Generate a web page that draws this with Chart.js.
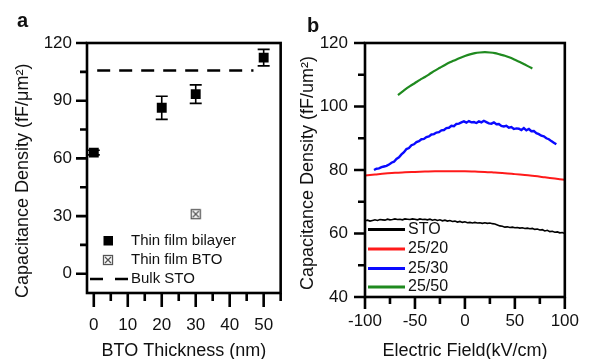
<!DOCTYPE html>
<html><head><meta charset="utf-8">
<script src="https://cdn.jsdelivr.net/npm/chart.js@4.4.0/dist/chart.umd.min.js"></script>
<style>
html,body{margin:0;padding:0;background:#fff;}
#wrap{position:relative;width:593px;height:359px;overflow:hidden;background:#fff}
canvas{position:absolute;top:0}
#ca{left:0;width:296px;height:359px}
#cb{left:296px;width:297px;height:359px}
</style></head><body>
<div id="wrap"><canvas id="ca" width="296" height="359"></canvas><canvas id="cb" width="297" height="359"></canvas></div>
<script>
// ---------- Panel a data ----------
const bilayerThickness = [0, 20, 30, 50];
const bilayerDensity = [63, 86.3, 93.4, 112.4];
const bilayerError = [1.2, 6, 4.8, 4.3];
const btoThickness = [30];
const btoDensity = [31];
const bulkThickness = [1, 47];
const bulkDensity = [105.7, 105.7];
const aXTicks = [0, 10, 20, 30, 40, 50];
const aXMinor = [5, 15, 25, 35, 45, 55];
const aYTicks = [0, 30, 60, 90, 120];
const aYMinor = [15, 45, 75, 105];

// ---------- Panel b data ----------
const stoField = [-100,-97.5,-95,-92.5,-90,-87.5,-85,-82.5,-80,-77.5,-75,-72.5,-70,-67.5,-65,-62.5,-60,-57.5,-55,-52.5,-50,-47.5,-45,-42.5,-40,-37.5,-35,-32.5,-30,-27.5,-25,-22.5,-20,-17.5,-15,-12.5,-10,-7.5,-5,-2.5,0,2.5,5,7.5,10,12.5,15,17.5,20,22.5,25,27.5,30,32.5,35,37.5,40,42.5,45,47.5,50,52.5,55,57.5,60,62.5,65,67.5,70,72.5,75,77.5,80,82.5,85,87.5,90,92.5,95,97.5,100];
const stoDensity = [64.0,64.2,63.9,64.1,64.3,64.1,64.4,64.3,64.2,64.5,64.3,64.4,64.6,64.4,64.5,64.3,64.6,64.5,64.4,64.6,64.5,64.3,64.6,64.4,64.5,64.3,64.5,64.2,64.4,64.1,64.3,64.0,64.2,63.9,64.1,63.8,63.9,63.6,63.8,63.5,63.7,63.4,63.5,63.3,63.5,63.3,63.4,63.2,63.4,63.2,63.3,63.1,63.0,62.7,62.4,62.3,62.0,62.1,61.9,62.0,61.8,61.9,61.7,61.8,61.6,61.7,61.5,61.6,61.3,61.4,61.1,61.2,60.8,61.0,60.6,60.7,60.4,60.5,60.2,60.3,60.0];
const r2520Field = [-100,-90,-80,-70,-60,-50,-40,-30,-20,-10,0,10,20,30,40,50,60,70,80,90,100];
const r2520Density = [78.3,78.6,78.9,79.1,79.3,79.4,79.5,79.6,79.6,79.6,79.6,79.5,79.4,79.2,79.0,78.7,78.4,78.1,77.7,77.3,76.9];
const r2530Field = [-91,-88.5,-86,-83.5,-81,-78.5,-76,-73.5,-71,-68.5,-66,-63.5,-61,-58.5,-56,-53.5,-51,-48.5,-46,-43.5,-41,-38.5,-36,-33.5,-31,-28.5,-26,-23.5,-21,-18.5,-16,-13.5,-11,-8.5,-6,-3.5,-1,1.5,4,6.5,9,11.5,14,16.5,19,21.5,24,26.5,29,31.5,34,36.5,39,41.5,44,46.5,49,51.5,54,56.5,59,61.5,64,66.5,69,71.5,74,76.5,79,81.5,84,86.5,89,91.5];
const r2530Density = [80.0,80.4,80.5,80.9,81.1,81.3,81.7,82.3,82.6,83.5,84.0,84.9,85.6,86.6,86.9,87.8,88.1,88.8,89.1,89.7,89.8,90.4,90.6,91.2,91.3,91.8,91.9,92.5,92.6,93.2,93.3,93.9,93.8,94.5,94.6,95.0,95.3,94.9,95.4,95.0,95.1,94.8,95.3,95.0,95.5,95.1,94.7,94.6,95.0,94.4,94.5,93.9,93.7,93.9,93.3,93.5,92.9,93.1,93.0,92.6,93.2,92.5,92.9,92.2,92.3,91.6,91.3,90.8,90.6,90.0,89.7,89.1,88.6,88.1];
const r2550Field = [-67,-60,-55,-50,-45,-40,-35,-30,-25,-20,-15,-10,-5,0,5,10,15,20,25,30,35,40,45,50,55,60,65,67.5];
const r2550Density = [103.6,105.3,106.4,107.4,108.4,109.3,110.3,111.3,112.2,113.1,113.9,114.6,115.3,115.9,116.4,116.8,117.0,117.1,117.0,116.8,116.4,116.0,115.4,114.7,114.0,113.2,112.4,112.0];
const bXTicks = [-100, -50, 0, 50, 100];
const bXMinor = [-75, -25, 25, 75];
const bYTicks = [40, 60, 80, 100, 120];
const bYMinor = [50, 70, 90, 110];

const FONT = "'Liberation Sans', Arial, Helvetica, sans-serif";
const TXT = '#111';
Chart.defaults.font.family = FONT;
Chart.defaults.color = TXT;

const pts = (xs, ys) => xs.map((x, i) => ({x: x, y: ys[i]}));

// crossed square marker image
function crossedSquare() {
  const c = document.createElement('canvas');
  c.width = 12; c.height = 12;
  const g = c.getContext('2d');
  g.fillStyle = '#fff'; g.fillRect(1, 1, 10, 10);
  g.strokeStyle = '#555'; g.lineWidth = 1.3;
  g.strokeRect(1.5, 1.5, 9, 9);
  g.beginPath(); g.moveTo(3, 3); g.lineTo(9, 9); g.moveTo(9, 3); g.lineTo(3, 9); g.stroke();
  return c;
}
const xsq = crossedSquare();

function fixTicks(vals) { return function(scale) { scale.ticks = vals.map(v => ({value: v})); }; }

function decor(o) {
  return {
    id: 'decor' + o.name,
    beforeDatasetsDraw(chart) {
      if (!o.errors) return;
      const ctx = chart.ctx, xs = chart.scales.x, ys = chart.scales.y;
      ctx.save();
      ctx.strokeStyle = '#000'; ctx.lineWidth = 1.6;
      o.errors.x.forEach((xv, i) => {
        const px = xs.getPixelForValue(xv);
        const t = ys.getPixelForValue(o.errors.y[i] + o.errors.e[i]);
        const b = ys.getPixelForValue(o.errors.y[i] - o.errors.e[i]);
        ctx.beginPath();
        ctx.moveTo(px, t); ctx.lineTo(px, b);
        ctx.moveTo(px - 6, t); ctx.lineTo(px + 6, t);
        ctx.moveTo(px - 6, b); ctx.lineTo(px + 6, b);
        ctx.stroke();
      });
      ctx.restore();
    },
    afterDatasetsDraw(chart) {
      const ctx = chart.ctx, a = chart.chartArea, xs = chart.scales.x, ys = chart.scales.y;
      ctx.save();
      ctx.strokeStyle = '#000';
      ctx.lineWidth = 2.6;
      ctx.strokeRect(a.left, a.top, a.right - a.left, a.bottom - a.top);
      ctx.beginPath();
      o.xMajor.forEach(v => { const p = xs.getPixelForValue(v); ctx.moveTo(p, a.bottom); ctx.lineTo(p, a.bottom + o.xMajLen); });
      o.xMinor.forEach(v => { const p = xs.getPixelForValue(v); ctx.moveTo(p, a.bottom); ctx.lineTo(p, a.bottom + o.xMinLen); });
      o.yMajor.forEach(v => { const p = ys.getPixelForValue(v); ctx.moveTo(a.left, p); ctx.lineTo(a.left - 11, p); });
      o.yMinor.forEach(v => { const p = ys.getPixelForValue(v); ctx.moveTo(a.left, p); ctx.lineTo(a.left - 7, p); });
      ctx.stroke();
      // axis titles
      ctx.fillStyle = TXT;
      ctx.font = '18px ' + FONT;
      ctx.textAlign = 'center'; ctx.textBaseline = 'alphabetic';
      ctx.fillText(o.xTitle, (a.left + a.right) / 2, 356);
      ctx.save();
      ctx.translate(o.yTitleX, o.yTitleStart);
      ctx.rotate(-Math.PI / 2);
      ctx.textAlign = 'left';
      ctx.fillText(o.yTitle, 0, 0);
      ctx.restore();
      // panel letter
      ctx.font = 'bold 20px ' + FONT;
      ctx.textAlign = 'left';
      ctx.fillText(o.letter, o.letterX, o.letterY);
      // legend
      o.legend(ctx, chart);
      ctx.restore();
    }
  };
}

function baseScales(xMin, xMax, yMin, yMax, xT, yT, yW, xH, xPad, yPad) {
  return {
    x: {type: 'linear', min: xMin, max: xMax, afterBuildTicks: fixTicks(xT),
        afterFit: s => { s.height = xH; },
        grid: {display: false, drawTicks: false}, border: {display: false},
        ticks: {font: {size: 17}, color: TXT, padding: xPad, maxRotation: 0, autoSkip: false}},
    y: {type: 'linear', min: yMin, max: yMax, afterBuildTicks: fixTicks(yT),
        afterFit: s => { s.width = yW; },
        grid: {display: false, drawTicks: false}, border: {display: false},
        ticks: {font: {size: 17}, color: TXT, padding: yPad, autoSkip: false}}
  };
}

// ---------- Chart a ----------
new Chart(document.getElementById('ca'), {
  type: 'scatter',
  data: {datasets: [
    {label: 'Thin film bilayer', data: pts(bilayerThickness, bilayerDensity), pointStyle: 'rect', pointRadius: 7, backgroundColor: '#000', borderColor: '#000', borderWidth: 0},
    {label: 'Thin film BTO', data: pts(btoThickness, btoDensity), pointStyle: xsq, pointRadius: 6},
    {label: 'Bulk STO', type: 'line', data: pts(bulkThickness, bulkDensity), borderColor: '#000', borderWidth: 2.6, borderDash: [13, 9], pointRadius: 0, fill: false}
  ]},
  options: {
    responsive: false, animation: false, devicePixelRatio: 1,
    layout: {padding: {left: 0, top: 43, right: 10, bottom: 0}},
    plugins: {legend: {display: false}, tooltip: {enabled: false}},
    scales: baseScales(-2, 55, -10, 120, aXTicks, aYTicks, 87, 66, 22, 15)
  },
  plugins: [decor({
    name: 'a', errors: {x: bilayerThickness, y: bilayerDensity, e: bilayerError},
    xMajor: aXTicks, xMinor: aXMinor, yMajor: aYTicks, yMinor: aYMinor, xMajLen: 14, xMinLen: 8,
    xTitle: 'BTO Thickness (nm)', yTitle: 'Capacitance Density (fF/\u03bcm\u00b2)',
    yTitleX: 28, yTitleStart: 298, letter: 'a', letterX: 17, letterY: 27,
    legend: (ctx, chart) => {
      const ds = chart.data.datasets;
      ctx.font = '15px ' + FONT; ctx.textBaseline = 'middle'; ctx.textAlign = 'left'; ctx.fillStyle = TXT;
      ctx.fillStyle = '#000'; ctx.fillRect(103.5, 236, 9.5, 9.5);
      ctx.drawImage(xsq, 102, 254);
      ctx.strokeStyle = '#000'; ctx.lineWidth = 2.6; ctx.setLineDash([13, 12]);
      ctx.beginPath(); ctx.moveTo(90, 279); ctx.lineTo(128, 279); ctx.stroke(); ctx.setLineDash([]);
      ctx.fillStyle = TXT;
      ctx.fillText(ds[0].label, 131, 241);
      ctx.fillText(ds[1].label, 131, 260);
      ctx.fillText(ds[2].label, 131, 279);
    }
  })]
});

// ---------- Chart b ----------
const lineDs = (label, xs, ys, color, w, tension) => ({label: label, data: pts(xs, ys), borderColor: color, backgroundColor: color, borderWidth: w, pointRadius: 0, showLine: true, tension: tension, fill: false});
new Chart(document.getElementById('cb'), {
  type: 'scatter',
  data: {datasets: [
    lineDs('STO', stoField, stoDensity, '#000000', 1.6, 0),
    lineDs('25/20', r2520Field, r2520Density, '#ff1a1a', 2, 0.3),
    lineDs('25/30', r2530Field, r2530Density, '#0a0aff', 2.4, 0),
    lineDs('25/50', r2550Field, r2550Density, '#1f8a1f', 2.2, 0.3)
  ]},
  options: {
    responsive: false, animation: false, devicePixelRatio: 1,
    layout: {padding: {left: 0, top: 43, right: 17, bottom: 0}},
    plugins: {legend: {display: false}, tooltip: {enabled: false}},
    scales: baseScales(-100, 100, 40, 120, bXTicks, bYTicks, 69, 62, 14, 17)
  },
  plugins: [decor({
    name: 'b', xMajor: bXTicks, xMinor: bXMinor, yMajor: bYTicks, yMinor: bYMinor, xMajLen: 12, xMinLen: 7,
    xTitle: 'Electric Field(kV/cm)', yTitle: 'Capacitance Density (fF/um\u00b2)',
    yTitleX: 17, yTitleStart: 290, letter: 'b', letterX: 11, letterY: 32,
    legend: (ctx, chart) => {
      const ds = chart.data.datasets;
      const rows = [229.5, 249, 268.5, 287];
      ctx.font = '16px ' + FONT; ctx.textBaseline = 'middle'; ctx.textAlign = 'left';
      ds.forEach((d, i) => {
        ctx.strokeStyle = d.borderColor; ctx.lineWidth = 3;
        ctx.beginPath(); ctx.moveTo(72, rows[i]); ctx.lineTo(109, rows[i]); ctx.stroke();
        ctx.fillStyle = TXT; ctx.fillText(d.label, 112, rows[i]);
      });
    }
  })]
});
</script>
</body></html>
